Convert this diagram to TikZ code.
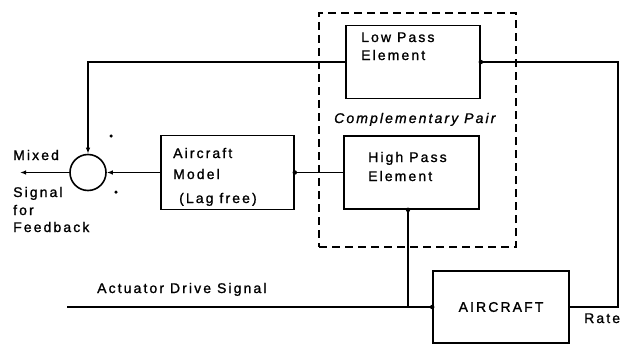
\documentclass[tikz,border=0pt]{standalone}
\usepackage{fontspec}
\setmainfont[LetterSpace=15,FakeBold=1.2]{Liberation Sans}
\usetikzlibrary{arrows.meta}
\begin{document}
\begin{tikzpicture}[x=1pt,y=-1pt,
  blk/.style={draw, rectangle, line width=1.6pt, inner sep=0pt, font=\fontsize{14}{17}\selectfont},
  txt/.style={inner sep=0pt, anchor=base west, font=\fontsize{14}{17}\selectfont},
  jdot/.style={circle, fill, inner sep=0pt, minimum size=4.5pt},
  ln/.style={line width=1.5pt},
  arr/.style={ln, -{Latex[length=6pt,width=4.5pt]}},
  dsh/.style={draw, line width=1.5pt, dash pattern=on 8pt off 5pt, inner sep=0pt}]
\useasboundingbox (0,0) rectangle (626,345);

% blocks
\node[blk, minimum width=134pt, minimum height=73pt] (lp) at (413,62) {};
\node[blk, minimum width=135pt, minimum height=73pt] (hp) at (411.5,172.5) {};
\node[blk, minimum width=133pt, minimum height=74pt] (am) at (227.5,172.5) {};
\node[blk, minimum width=136pt, minimum height=72pt] (ac) at (501,307) {AIRCRAFT};
\node[circle, draw, line width=1.6pt, minimum size=36pt, inner sep=0pt] (sum) at (88,172.5) {};
\node[dsh, minimum width=197pt, minimum height=234pt] (pair) at (417.5,130) {};

% free ends / corners
\coordinate (out) at (20,172.5);
\coordinate (src) at (67,307);
\coordinate (rc) at (618,0);
\coordinate (br) at (408,0);

% connectors
\draw[arr] (lp.west) -| (sum.north);
\draw[ln] (ac.east) -| (rc |- lp.east) -- (lp.east);
\draw[arr] (am.west) -- (sum.east);
\draw[ln] (am.east) -- (hp.west);
\draw[arr] (sum.west) -- (out);
\draw[ln] (src) -- (ac.west);
\draw[ln] (br |- hp.south) -- (br |- ac.west);

% junction dots
\node[jdot] (d1) at (lp.east) {};
\node[jdot] (d2) at (am.east) {};
\node[jdot] (d3) at (br |- hp.south) {};
\node[jdot] (d4) at (ac.west) {};
\node[jdot, minimum size=3.5pt] (p1) at (111,136) {};
\node[jdot, minimum size=3.5pt] (p2) at (116,192) {};

% texts
\node[txt] (tmix) at (13,160) {Mixed};
\node[txt] (tsig) at (13,197) {Signal};
\node[txt] (tfor) at (13,215) {for};
\node[txt] (tfb) at (13,232) {Feedback};
\node[txt] (tam1) at (173,158) {Aircraft};
\node[txt] (tam2) at (173,179) {Model};
\node[txt] (tam3) at (179,203) {(Lag free)};
\node[txt] (thp1) at (368,162) {High Pass};
\node[txt] (thp2) at (368,181) {Element};
\node[txt] (tlp1) at (361,42) {Low Pass};
\node[txt] (tlp2) at (361,60) {Element};
\node[txt, font=\fontsize{14}{17}\selectfont\itshape] (tcp) at (334,123) {Complementary Pair};
\node[txt] (tads) at (97,293) {Actuator Drive Signal};
\node[txt] (trate) at (584,323) {Rate};
\end{tikzpicture}
\end{document}
